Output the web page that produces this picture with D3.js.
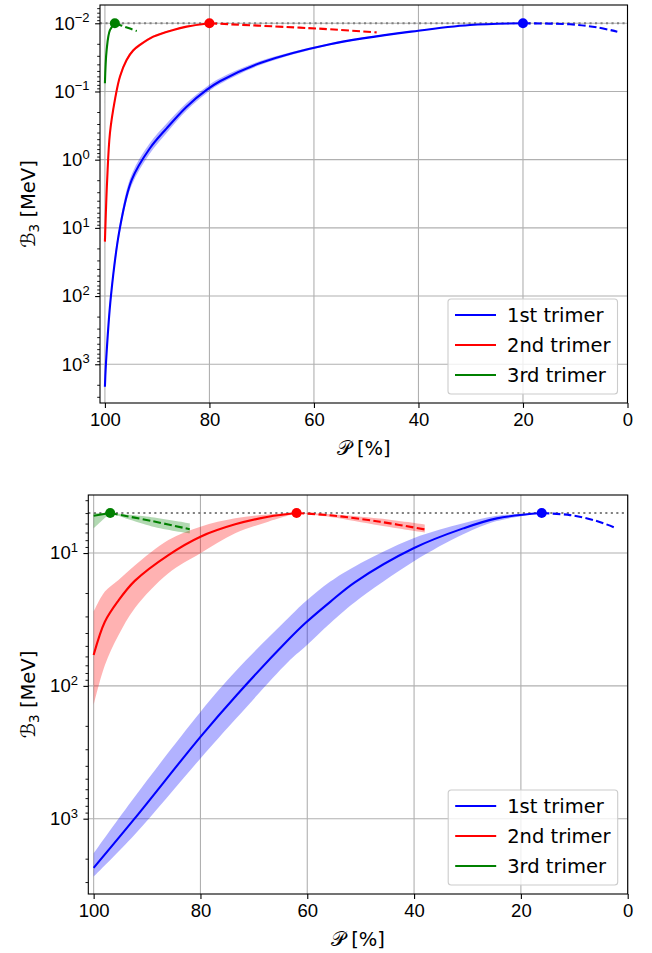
<!DOCTYPE html>
<html>
<head>
<meta charset="utf-8">
<script src="https://cdn.jsdelivr.net/npm/d3@7"></script>
<style>
  body { margin: 0; background: #fff; }
  svg { display: block; font-family: "DejaVu Sans", sans-serif; }
</style>
</head>
<body>
<div id="chart"></div>
<script>
// ---- data: P in %, B3 in MeV ----
const xTicks = [100, 80, 60, 40, 20, 0];
const topMajor = [1e-2, 1e-1, 1e0, 1e1, 1e2, 1e3];
const botMajor = [1e1, 1e2, 1e3];
const names = ['1st trimer', '2nd trimer', '3rd trimer'];
const refTop = 0.01;
const refBot = 5;

// top panel
const topBlueP  = [100, 99.81, 98.85, 97.13, 94.89, 91.39, 88.19, 84.36, 80.54, 77.99, 70.14, 56.94, 40.04, 30.14, 20];
const topBlueB  = [2133, 1000, 100, 10, 1.99, 0.68, 0.347, 0.167, 0.095, 0.0708, 0.038, 0.0203, 0.01285, 0.0106, 0.01];
const topBlueLo = [1900, 880, 86, 8.4, 1.65, 0.57, 0.295, 0.146, 0.085, 0.064, 0.0355, 0.0196, 0.0126, 0.0105, 0.01];
const topBlueHi = [2400, 1130, 116, 11.9, 2.4, 0.81, 0.405, 0.19, 0.106, 0.078, 0.0407, 0.021, 0.0131, 0.0107, 0.01];
const topBlueDashP = [20, 11, 5.9, 1.95];
const topBlueDashB = [0.01, 0.01035, 0.01146, 0.01328];

const topRedP  = [100, 99.57, 99.04, 98.09, 97.13, 95.85, 94.6, 93.3, 90.75, 86.92, 84.37, 80];
const topRedB  = [15.9, 1.99, 0.41, 0.133, 0.0607, 0.0345, 0.0251, 0.0208, 0.0157, 0.0125, 0.0112, 0.01];
const topRedLo = [13, 1.7, 0.36, 0.12, 0.056, 0.0322, 0.0238, 0.0198, 0.0151, 0.0122, 0.011, 0.01];
const topRedHi = [20, 2.35, 0.47, 0.148, 0.066, 0.0368, 0.0264, 0.0218, 0.0163, 0.0128, 0.0114, 0.01];
const topRedDashP = [80, 62.7, 56.9, 48];
const topRedDashB = [0.01, 0.0116, 0.01225, 0.0136];

const topGreenP  = [100, 99.67, 99.04, 98.1];
const topGreenB  = [0.0759, 0.0247, 0.0126, 0.01];
const topGreenLo = [0.068, 0.022, 0.0121, 0.01];
const topGreenHi = [0.148, 0.031, 0.0133, 0.01];
const topGreenDashP = [98.1, 96.1, 93.9];
const topGreenDashB = [0.01, 0.0113, 0.013];

const topPeakP = [20, 80, 98.1];

// bottom panel
const botBlueP  = [100, 92.3, 80, 73.2, 63.6, 60.4, 55.7, 51.1, 40.1, 30.8, 24.5, 16.1];
const botBlueB  = [2344, 995, 242, 117, 45.2, 33.8, 23.3, 16.6, 9.2, 6.52, 5.48, 5.0];
const botBlueLo = [1824, 684, 157, 76, 31, 23.3, 16.4, 12.6, 7.74, 5.97, 5.25, 5.0];
const botBlueHi = [2735, 1318, 352, 174, 66, 50.8, 33.8, 23.5, 11.6, 7.23, 5.75, 5.0];
const botBlueDashP = [16.1, 10.8, 5.8, 2.06];
const botBlueDashB = [5, 5.18, 5.74, 6.52];

const botRedP  = [100, 97.9, 95.4, 92.3, 86, 80, 73.5, 67.3, 62];
const botRedB  = [58.6, 32.9, 22.9, 16.2, 10.35, 7.53, 6.08, 5.33, 5];
const botRedLo = [27.7, 19.5, 16.0, 12.4, 7.98, 6.34, 5.48, 5.12, 5];
const botRedHi = [139.6, 70, 42, 26, 14.2, 10.05, 7.11, 5.81, 5];
const botRedDashP  = [62, 55.7, 46.4, 38];
const botRedDashB  = [5, 5.2, 5.81, 6.64];
const botRedDashLo = [5, 5.1, 5.5, 6.1];
const botRedDashHi = [5, 5.35, 6.2, 7.0];

const botGreenP  = [100, 96.9];
const botGreenB  = [5.24, 5];
const botGreenLo = [5.0, 5];
const botGreenHi = [6.52, 5];
const botGreenDashP  = [96.9, 89.1, 82];
const botGreenDashB  = [5, 5.74, 6.62];
const botGreenDashLo = [5, 5.37, 5.97];
const botGreenDashHi = [5, 6.3, 7.11];

const botPeakP = [16.1, 62, 96.9];

// ---- drawing ----
const width = 652, height = 953;
const colors = ['#0000ff', '#ff0000', '#008000'];

const svg = d3.select('#chart').append('svg')
  .attr('width', width)
  .attr('height', height);

const zip = (P, B, lo, hi) => P.map((p, i) => ({p: p, b: B[i], lo: lo ? lo[i] : null, hi: hi ? hi[i] : null}));

const panels = [
  {
    id: 'top', left: 100, right: 627.5, top: 5, bottom: 403,
    xDomain: [100.94, 0], yDomain: [Math.pow(10, -2.268), Math.pow(10, 3.568)],
    major: topMajor, ref: refTop, peakP: topPeakP,
    solid: [zip(topBlueP, topBlueB, topBlueLo, topBlueHi), zip(topRedP, topRedB, topRedLo, topRedHi), zip(topGreenP, topGreenB, topGreenLo, topGreenHi)],
    dashed: [zip(topBlueDashP, topBlueDashB), zip(topRedDashP, topRedDashB), zip(topGreenDashP, topGreenDashB)]
  },
  {
    id: 'bot', left: 88.3, right: 627.7, top: 495, bottom: 894,
    xDomain: [101.0, 0], yDomain: [Math.pow(10, 0.563), Math.pow(10, 3.567)],
    major: botMajor, ref: refBot, peakP: botPeakP,
    solid: [zip(botBlueP, botBlueB, botBlueLo, botBlueHi), zip(botRedP, botRedB, botRedLo, botRedHi), zip(botGreenP, botGreenB, botGreenLo, botGreenHi)],
    dashed: [zip(botBlueDashP, botBlueDashB), zip(botRedDashP, botRedDashB, botRedDashLo, botRedDashHi), zip(botGreenDashP, botGreenDashB, botGreenDashLo, botGreenDashHi)]
  }
];

const curve = d3.curveCatmullRom.alpha(0.5);

function drawPanel(p) {
  const x = d3.scaleLinear().domain(p.xDomain).range([p.left, p.right]);
  const y = d3.scaleLog().domain(p.yDomain).range([p.top, p.bottom]);
  const g = svg.append('g');

  g.append('clipPath').attr('id', 'clip-' + p.id)
    .append('rect')
    .attr('x', p.left).attr('y', p.top)
    .attr('width', p.right - p.left).attr('height', p.bottom - p.top);

  // grid
  g.append('g').selectAll('line').data(xTicks).join('line')
    .attr('x1', d => x(d)).attr('x2', d => x(d))
    .attr('y1', p.top).attr('y2', p.bottom)
    .attr('stroke', '#b0b0b0').attr('stroke-width', 1.1);
  g.append('g').selectAll('line').data(p.major).join('line')
    .attr('x1', p.left).attr('x2', p.right)
    .attr('y1', d => y(d)).attr('y2', d => y(d))
    .attr('stroke', '#b0b0b0').attr('stroke-width', 1.1);

  // reference line
  g.append('line')
    .attr('x1', p.left).attr('x2', p.right)
    .attr('y1', y(p.ref)).attr('y2', y(p.ref))
    .attr('stroke', '#808080').attr('stroke-width', 2.1)
    .attr('stroke-dasharray', '2.1,3.4');

  const plot = g.append('g').attr('clip-path', `url(#clip-${p.id})`);

  const area = d3.area()
    .x(d => x(d.p)).y0(d => y(d.lo)).y1(d => y(d.hi))
    .curve(curve);
  const line = d3.line()
    .x(d => x(d.p)).y(d => y(d.b))
    .curve(curve);

  // bands
  p.solid.concat(p.dashed).forEach((s, i) => {
    if (s[0].lo === null) return;
    plot.append('path').datum(s)
      .attr('fill', colors[i % 3]).attr('fill-opacity', 0.3)
      .attr('d', area);
  });

  // lines
  p.solid.forEach((s, i) => {
    plot.append('path').datum(s)
      .attr('fill', 'none').attr('stroke', colors[i])
      .attr('stroke-width', 2.1)
      .attr('d', line);
  });
  p.dashed.forEach((s, i) => {
    plot.append('path').datum(s)
      .attr('fill', 'none').attr('stroke', colors[i])
      .attr('stroke-width', 2.1)
      .attr('stroke-dasharray', '7.7,3.3')
      .attr('d', line);
  });

  // peak markers
  g.append('g').selectAll('circle').data(p.peakP).join('circle')
    .attr('cx', d => x(d)).attr('cy', y(p.ref)).attr('r', 5)
    .attr('fill', (d, i) => colors[i]);

  // axes
  const xAxis = g.append('g')
    .attr('transform', `translate(0,${p.bottom})`)
    .call(d3.axisBottom(x).tickValues(xTicks).tickSize(4.9).tickPadding(4.5).tickFormat(d3.format('d')));
  xAxis.select('.domain').remove();
  xAxis.selectAll('text').attr('font-size', 18.5).attr('fill', '#000');
  xAxis.selectAll('line').attr('stroke-width', 1.1);

  const minor = y.ticks().filter(d => !p.major.some(m => Math.abs(m - d) / m < 1e-6));
  const yMinor = g.append('g')
    .attr('transform', `translate(${p.left},0)`)
    .call(d3.axisLeft(y).tickValues(minor).tickSize(2.8).tickFormat(''));
  yMinor.select('.domain').remove();
  yMinor.selectAll('line').attr('stroke-width', 0.9);

  const yAxis = g.append('g')
    .attr('transform', `translate(${p.left},0)`)
    .call(d3.axisLeft(y).tickValues(p.major).tickSize(4.9).tickPadding(5.5));
  yAxis.select('.domain').remove();
  yAxis.selectAll('line').attr('stroke-width', 1.1);
  yAxis.selectAll('text')
    .attr('font-size', 18.5).attr('fill', '#000')
    .each(function(d) {
      const e = Math.round(Math.log10(d));
      const t = d3.select(this).text(null);
      t.append('tspan').text('10');
      t.append('tspan').attr('dy', -7.5).attr('font-size', 13)
        .text(e < 0 ? '\u2212' + (-e) : String(e));
    });

  // frame
  g.append('rect')
    .attr('x', p.left).attr('y', p.top)
    .attr('width', p.right - p.left).attr('height', p.bottom - p.top)
    .attr('fill', 'none').attr('stroke', '#000').attr('stroke-width', 1.1);

  // axis labels
  g.append('text')
    .attr('x', (p.left + p.right) / 2).attr('y', p.bottom + 52)
    .attr('text-anchor', 'middle').attr('font-size', 19.5)
    .text('\u{1D4AB} [%]');
  const yl = g.append('text')
    .attr('transform', `translate(35,${(p.top + p.bottom) / 2}) rotate(-90)`)
    .attr('text-anchor', 'middle').attr('font-size', 19.5);
  yl.append('tspan').text('\u212C');
  yl.append('tspan').attr('dy', 4).attr('font-size', 13.5).text('3');
  yl.append('tspan').attr('dy', -4).text(' [MeV]');

  // legend
  const lg = g.append('g').attr('transform', `translate(${p.right - 179.5},${p.bottom - 104})`);
  lg.append('rect')
    .attr('width', 169.5).attr('height', 95).attr('rx', 3)
    .attr('fill', '#fff').attr('fill-opacity', 0.8)
    .attr('stroke', '#cccccc').attr('stroke-width', 1.1);
  names.forEach((n, i) => {
    const yy = 16 + i * 30;
    lg.append('line')
      .attr('x1', 7).attr('x2', 48).attr('y1', yy).attr('y2', yy)
      .attr('stroke', colors[i]).attr('stroke-width', 2.1);
    lg.append('text')
      .attr('x', 59).attr('y', yy + 7)
      .attr('font-size', 19.5)
      .text(n);
  });
}

panels.forEach(drawPanel);
</script>
</body>
</html>
